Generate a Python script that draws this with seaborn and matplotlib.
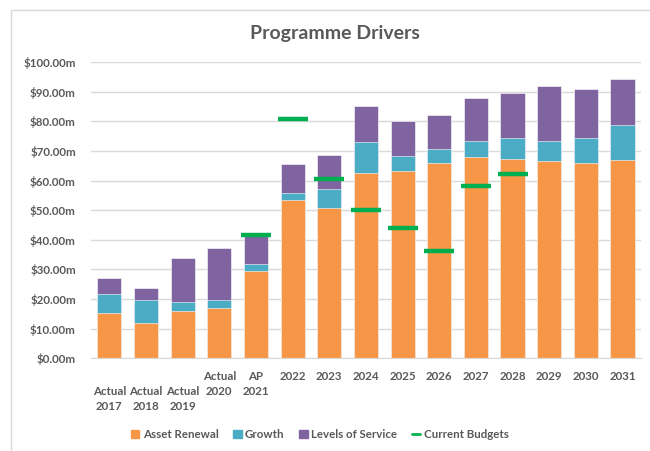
import numpy as np
import pandas as pd
import matplotlib
matplotlib.use("Agg")
import matplotlib.pyplot as plt
from matplotlib.patches import Patch, Rectangle
from matplotlib.lines import Line2D
import seaborn as sns

# Chart data
categories = ["Actual 2017", "Actual 2018", "Actual 2019", "Actual 2020", "AP 2021",
              "2022", "2023", "2024", "2025", "2026", "2027", "2028", "2029", "2030", "2031"]
tick_labels = ["\nActual\n2017", "\nActual\n2018", "\nActual\n2019", "Actual\n2020", "AP\n2021",
               "2022", "2023", "2024", "2025", "2026", "2027", "2028", "2029", "2030", "2031"]
asset_renewal = [15.2, 12.0, 16.0, 16.9, 29.5, 53.3, 50.8, 62.6, 63.1, 65.8, 67.9, 67.3, 66.5, 65.8, 66.8]
growth = [6.4, 7.7, 2.9, 2.8, 2.2, 2.6, 6.2, 10.4, 5.3, 4.9, 5.4, 7.0, 6.8, 8.4, 11.8]
levels_of_service = [5.6, 4.1, 14.8, 17.6, 9.5, 9.6, 11.5, 12.3, 11.7, 11.3, 14.4, 15.2, 18.5, 16.8, 15.8]
current_budgets = [np.nan, np.nan, np.nan, np.nan, 41.6, 80.8, 60.5, 50.2, 43.9, 36.2, 58.1, 62.1,
                   np.nan, np.nan, np.nan]

colors = {"Asset Renewal": "#F79646", "Growth": "#4BACC6",
          "Levels of Service": "#8064A2", "Current Budgets": "#00B050"}
text_color = "#595959"

df = pd.DataFrame({"category": categories, "Asset Renewal": asset_renewal,
                   "Growth": growth, "Levels of Service": levels_of_service,
                   "Current Budgets": current_budgets})
# cumulative tops for stacking (draw tallest first)
df["top_ar"] = df["Asset Renewal"]
df["top_gr"] = df["top_ar"] + df["Growth"]
df["top_ls"] = df["top_gr"] + df["Levels of Service"]

sns.set_style("white")
plt.rcParams["font.family"] = ["Lato", "DejaVu Sans"]

fig = plt.figure(figsize=(6.5, 4.51), dpi=100)
ax = fig.add_axes([0.14, 0.2055, 0.846, 0.657])

for col, name in [("top_ls", "Levels of Service"), ("top_gr", "Growth"), ("top_ar", "Asset Renewal")]:
    sns.barplot(data=df, x="category", y=col, color=colors[name], width=0.66,
                saturation=1, edgecolor="white", linewidth=0.4, ax=ax)

ax.plot(range(len(categories)), df["Current Budgets"], linestyle="none", marker="_",
        markersize=22, markeredgewidth=3.2, color=colors["Current Budgets"], zorder=5)

ax.set_xlim(-0.5, len(categories) - 0.5)
ax.set_ylim(0, 100)
ax.set_yticks(np.arange(0, 101, 10))
ax.set_yticklabels([f"${v:.2f}m" for v in np.arange(0, 101, 10)])
ax.set_xticks(range(len(categories)))
ax.set_xticklabels(tick_labels, linespacing=1.45, va="top")
ax.set_xlabel("")
ax.set_ylabel("")
ax.grid(axis="y", color="#d9d9d9", linewidth=1)
ax.set_axisbelow(True)
for s in ["top", "right", "left"]:
    ax.spines[s].set_visible(False)
ax.spines["bottom"].set_color("#d9d9d9")
ax.tick_params(axis="both", length=0, colors=text_color, labelsize=8.3)
ax.tick_params(axis="y", pad=11)
ax.tick_params(axis="x", pad=9)
for lbl in ax.get_xticklabels() + ax.get_yticklabels():
    lbl.set_fontweight("bold")

fig.text(0.515, 0.926, "Programme Drivers", ha="center", va="center",
         fontsize=14, fontweight="bold", color=text_color)

handles = [Patch(color=colors["Asset Renewal"], label="Asset Renewal"),
           Patch(color=colors["Growth"], label="Growth"),
           Patch(color=colors["Levels of Service"], label="Levels of Service"),
           Line2D([0], [0], color=colors["Current Budgets"], linewidth=2, label="Current Budgets")]
leg = fig.legend(handles=handles, loc="center", bbox_to_anchor=(0.492, 0.037), ncol=4, frameon=False,
                 prop={"size": 8.3, "weight": "bold"}, handlelength=0.7, handleheight=0.7,
                 handletextpad=0.3, columnspacing=1.3, labelcolor=text_color)

# light chart-area border
fig.patches.append(Rectangle((11 / 650, -0.1), 1.1, 1.1 - 10 / 451, transform=fig.transFigure,
                             fill=False, edgecolor="#d9d9d9", linewidth=1, clip_on=False))

fig.savefig("out.png", dpi=100)
